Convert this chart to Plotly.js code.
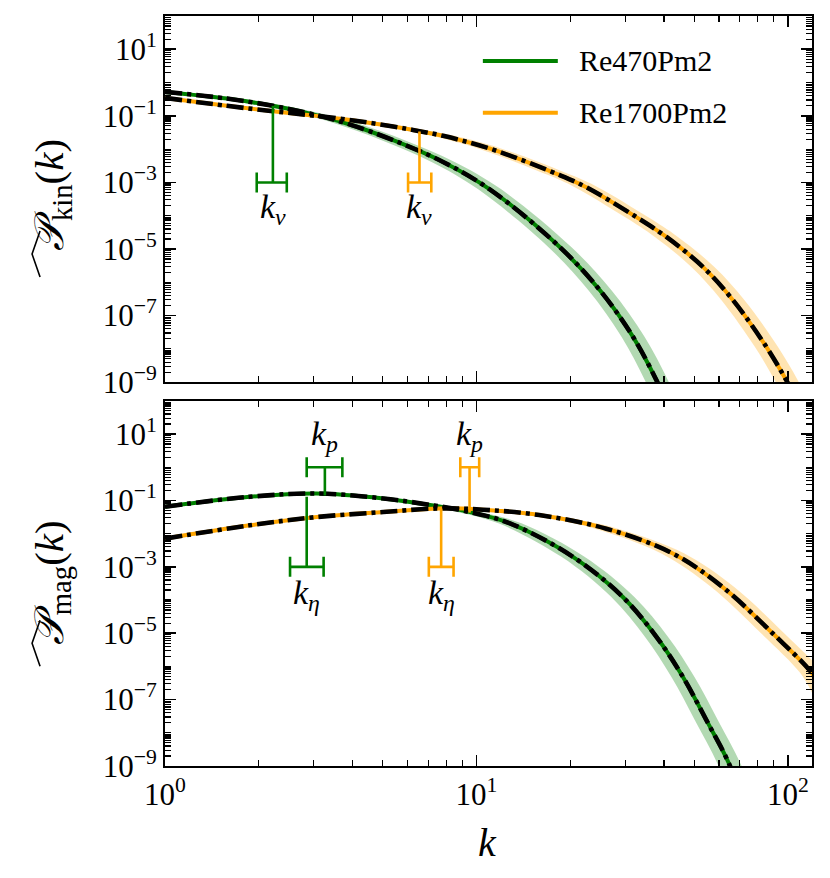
<!DOCTYPE html>
<html><head><meta charset="utf-8">
<script src="https://cdn.plot.ly/plotly-3.0.1.min.js"></script>
<style>html,body{margin:0;padding:0;background:#fff}</style>
</head><body>
<div id="chart" style="width:830px;height:878px"></div>
<script>
// ---------------- data ----------------
const seriesNames = ['Re470Pm2', 'Re1700Pm2'];

// kinetic spectra
const kinGreenK = [1.0, 1.58, 2.22, 2.92, 3.83, 5.40, 7.81, 11.0, 18.5, 24.9, 31.8, 37.8, 42.0];
const kinGreenP = [0.525, 0.331, 0.200, 0.117, 0.0589, 0.0186, 0.00412, 6.3e-4, 1.15e-5, 5.75e-7, 2.3e-8, 1.15e-9, 1.3e-10];
const kinOrangeK = [1.0, 1.58, 2.22, 2.92, 3.83, 5.40, 6.56, 7.81, 11.0, 18.5, 22.5, 32.6, 40.7, 53.3, 66.6, 85.2, 98.7, 112];
const kinOrangeP = [0.347, 0.200, 0.138, 0.105, 0.0776, 0.0479, 0.0347, 0.0251, 0.0105, 0.00166, 7.2e-4, 9.1e-5, 2.3e-5, 2.9e-6, 2.9e-7, 1.15e-8, 1.15e-9, 1.3e-10];

// magnetic spectra
const magGreenK = [1.0, 1.87, 3.07, 5.02, 7.26, 9.29, 12.8, 20.4, 29.5, 37.8, 46.0, 54.7, 65.0, 72.0];
const magGreenP = [0.0646, 0.129, 0.162, 0.115, 0.0708, 0.0468, 0.0204, 0.0020, 1.23e-4, 7.8e-6, 4.8e-7, 2.4e-8, 1.05e-9, 6.3e-11];
const magOrangeK = [1.0, 1.87, 3.07, 5.02, 7.6, 10.5, 15.9, 26.1, 42.7, 61.7, 89.4, 119.4, 130];
const magOrangeP = [0.00708, 0.0178, 0.0316, 0.0447, 0.0575, 0.0525, 0.0363, 0.0141, 0.00251, 2.45e-4, 9.8e-6, 6.2e-7, 1.6e-7];

// characteristic scales: [green, orange]
const kNuK = [2.22, 6.56], kNuLo = [1.97, 6.03], kNuHi = [2.46, 7.16], kNuBarY = [1e-3, 1e-3], kNuCurveY = [0.20, 0.034];
const kPK = [3.26, 9.5], kPLo = [2.85, 8.87], kPHi = [3.71, 10.2], kPBarY = [1.0, 1.0], kPCurveY = [0.14, 0.043];
const kEtaK = [2.85, 7.7], kEtaLo = [2.52, 7.03], kEtaHi = [3.23, 8.44], kEtaBarY = [1e-3, 1e-3], kEtaCurveY = [0.13, 0.057];

const yLabelExp = [-9, -7, -5, -3, -1, 1];
const yAllExp = [-9, -8, -7, -6, -5, -4, -3, -2, -1, 0, 1, 2];
const xTickVals = [1, 10, 100];
const xTickText = ['10<sup>0</sup>', '10<sup>1</sup>', '10<sup>2</sup>'];

// ---------------- styles ----------------
const GREEN = '#008000', ORANGE = '#FFA500';
const GREEN_BAND = 'rgba(0,128,0,0.3)', ORANGE_BAND = 'rgba(255,165,0,0.3)';
const FONT = '"Liberation Serif", "DejaVu Serif", serif';
const BANDSHIFT = Math.pow(10, 0.037);
const L = 165, R = 812.3, T = 16, B = 765.7, W = 830, H = 878;
const px2x = p => (p - L) / (R - L);
const py2y = p => (B - p) / (B - T);

const traces = [];
function band(k, p, col, xa, ya) {
  traces.push({x: k.map(v => v * BANDSHIFT), y: p, xaxis: xa, yaxis: ya, mode: 'lines',
    line: {width: 0, shape: 'spline', color: col}, hoverinfo: 'skip', showlegend: false});
  traces.push({x: k.map(v => v / BANDSHIFT), y: p, xaxis: xa, yaxis: ya, mode: 'lines', fill: 'tonexty',
    fillcolor: col, line: {width: 0, shape: 'spline', color: col}, hoverinfo: 'skip', showlegend: false});
}
function curve(k, p, col, xa, ya) {
  traces.push({x: k, y: p, xaxis: xa, yaxis: ya, mode: 'lines',
    line: {width: 4, shape: 'spline', color: col}, showlegend: false});
}
function fit(k, p, xa, ya) {
  traces.push({x: k, y: p, xaxis: xa, yaxis: ya, mode: 'lines',
    line: {width: 4.6, shape: 'spline', color: '#000', dash: '17px,5px,4px,5px'}, showlegend: false});
}
function marker(k, lo, hi, barY, curveY, col, xa, ya) {
  traces.push({x: [k, k], y: [barY, curveY], xaxis: xa, yaxis: ya, mode: 'lines',
    line: {width: 2.6, color: col}, showlegend: false});
  traces.push({x: [k], y: [barY], xaxis: xa, yaxis: ya, mode: 'markers', marker: {size: 1, color: col, opacity: 0},
    error_x: {type: 'data', symmetric: false, array: [hi - k], arrayminus: [k - lo], width: 10, thickness: 2.6, color: col},
    showlegend: false});
}

// top panel
band(kinGreenK, kinGreenP, GREEN_BAND, 'x', 'y');
curve(kinGreenK, kinGreenP, GREEN, 'x', 'y');
band(kinOrangeK, kinOrangeP, ORANGE_BAND, 'x', 'y');
curve(kinOrangeK, kinOrangeP, ORANGE, 'x', 'y');
fit(kinGreenK, kinGreenP, 'x', 'y');
fit(kinOrangeK, kinOrangeP, 'x', 'y');
marker(kNuK[0], kNuLo[0], kNuHi[0], kNuBarY[0], kNuCurveY[0], GREEN, 'x', 'y');
marker(kNuK[1], kNuLo[1], kNuHi[1], kNuBarY[1], kNuCurveY[1], ORANGE, 'x', 'y');

// bottom panel
band(magGreenK, magGreenP, GREEN_BAND, 'x2', 'y2');
curve(magGreenK, magGreenP, GREEN, 'x2', 'y2');
band(magOrangeK, magOrangeP, ORANGE_BAND, 'x2', 'y2');
curve(magOrangeK, magOrangeP, ORANGE, 'x2', 'y2');
fit(magGreenK, magGreenP, 'x2', 'y2');
fit(magOrangeK, magOrangeP, 'x2', 'y2');
marker(kPK[0], kPLo[0], kPHi[0], kPBarY[0], kPCurveY[0], GREEN, 'x2', 'y2');
marker(kPK[1], kPLo[1], kPHi[1], kPBarY[1], kPCurveY[1], ORANGE, 'x2', 'y2');
marker(kEtaK[0], kEtaLo[0], kEtaHi[0], kEtaBarY[0], kEtaCurveY[0], GREEN, 'x2', 'y2');
marker(kEtaK[1], kEtaLo[1], kEtaHi[1], kEtaBarY[1], kEtaCurveY[1], ORANGE, 'x2', 'y2');

// ticks: labelled (major) decades, minor ticks everywhere else
const yMajor = yLabelExp.map(e => Math.pow(10, e));
const yText = yLabelExp.map(e => '10<sup>' + String(e).replace('-', '\u2212') + '</sup>');
const yMinor = [], xMinor = [];
yAllExp.forEach(e => {
  for (let s = 1; s <= 9; s++) {
    if (s === 1 && yLabelExp.indexOf(e) >= 0) continue;
    yMinor.push(s * Math.pow(10, e));
  }
});
[0, 1, 2].forEach(e => { for (let s = 2; s <= 9; s++) xMinor.push(s * Math.pow(10, e)); });

const common = {showline: true, linewidth: 2, linecolor: '#000', mirror: 'allticks', ticks: 'inside',
  ticklen: 11, tickwidth: 1.6, tickcolor: '#000', showgrid: false, zeroline: false,
  tickfont: {family: FONT, size: 31, color: '#000'}};
const minorX = {tickmode: 'array', tickvals: xMinor, ticks: 'inside', ticklen: 6, tickwidth: 1.2, tickcolor: '#000', showgrid: false};
const minorY = {tickmode: 'array', tickvals: yMinor, ticks: 'inside', ticklen: 6, tickwidth: 1.2, tickcolor: '#000', showgrid: false};
const xr = [0, Math.log10(119.4)];
const yr = [-9, 2];

const hat = (cx, y0, y1, w) => ({type: 'path', xref: 'paper', yref: 'paper',
  path: 'M' + px2x(cx + w) + ',' + py2y(y0) + ' L' + px2x(cx) + ',' + py2y((y0 + y1) / 2) + ' L' + px2x(cx + w) + ',' + py2y(y1),
  line: {color: '#000', width: 1.6}});

const layout = {
  width: W, height: H, paper_bgcolor: '#fff', plot_bgcolor: '#fff', showlegend: false,
  font: {family: FONT, color: '#000'},
  margin: {l: L, r: W - R, t: T, b: H - B},
  xaxis: Object.assign({}, common, {type: 'log', range: xr, anchor: 'y', tickmode: 'array', tickvals: xTickVals, ticktext: xTickText, showticklabels: false, minor: minorX}),
  yaxis: Object.assign({}, common, {type: 'log', range: yr, domain: [py2y(382), 1], anchor: 'x', tickmode: 'array', tickvals: yMajor, ticktext: yText, minor: minorY}),
  xaxis2: Object.assign({}, common, {type: 'log', range: xr, anchor: 'y2', tickmode: 'array', tickvals: xTickVals, ticktext: xTickText, minor: minorX}),
  yaxis2: Object.assign({}, common, {type: 'log', range: yr, domain: [0, py2y(400.7)], anchor: 'x2', tickmode: 'array', tickvals: yMajor, ticktext: yText, minor: minorY}),
  shapes: [
    {type: 'line', xref: 'paper', yref: 'paper', x0: px2x(483), x1: px2x(558), y0: py2y(61), y1: py2y(61), line: {color: GREEN, width: 4}},
    {type: 'line', xref: 'paper', yref: 'paper', x0: px2x(483), x1: px2x(558), y0: py2y(112.7), y1: py2y(112.7), line: {color: ORANGE, width: 4}},
    hat(32, 231, 277, 8),
    hat(32, 620, 666, 8)
  ],
  annotations: []
};
const ann = layout.annotations;
const lab = (xa, ya, x, y, text) => ann.push({xref: xa, yref: ya, x: x, y: y, text: text, showarrow: false,
  xanchor: 'center', yanchor: 'middle', font: {family: FONT, size: 34, color: '#000'}});
// legend text
ann.push({xref: 'paper', yref: 'paper', x: px2x(577), y: py2y(60), text: seriesNames[0], showarrow: false, xanchor: 'left', yanchor: 'middle', font: {family: FONT, size: 30, color: '#000'}});
ann.push({xref: 'paper', yref: 'paper', x: px2x(577), y: py2y(112), text: seriesNames[1], showarrow: false, xanchor: 'left', yanchor: 'middle', font: {family: FONT, size: 30, color: '#000'}});
// scale labels (log axes -> log10 positions)
const lg = Math.log10;
lab('x', 'y', lg(kNuK[0]), -3.8, '<i>k</i><sub><i>ν</i></sub>');
lab('x', 'y', lg(kNuK[1]), -3.8, '<i>k</i><sub><i>ν</i></sub>');
lab('x2', 'y2', lg(kPK[0]), 0.95, '<i>k</i><sub><i>p</i></sub>');
lab('x2', 'y2', lg(kPK[1]), 0.95, '<i>k</i><sub><i>p</i></sub>');
lab('x2', 'y2', lg(kEtaK[0]), -3.85, '<i>k</i><sub><i>η</i></sub>');
lab('x2', 'y2', lg(kEtaK[1]), -3.85, '<i>k</i><sub><i>η</i></sub>');
// axis titles
ann.push({xref: 'paper', yref: 'paper', x: px2x(488), y: py2y(842), text: '<i>k</i>', showarrow: false, xanchor: 'center', yanchor: 'middle', font: {family: FONT, size: 40, color: '#000'}});
ann.push({xref: 'paper', yref: 'paper', x: px2x(52), y: py2y(195), textangle: -90, text: '<i>𝒫</i><sub>kin</sub>(<i>k</i>)', showarrow: false, xanchor: 'center', yanchor: 'middle', font: {family: FONT, size: 41, color: '#000'}});
ann.push({xref: 'paper', yref: 'paper', x: px2x(52), y: py2y(583), textangle: -90, text: '<i>𝒫</i><sub>mag</sub>(<i>k</i>)', showarrow: false, xanchor: 'center', yanchor: 'middle', font: {family: FONT, size: 41, color: '#000'}});

Plotly.newPlot('chart', traces, layout, {staticPlot: true, displayModeBar: false});
</script>
</body></html>
